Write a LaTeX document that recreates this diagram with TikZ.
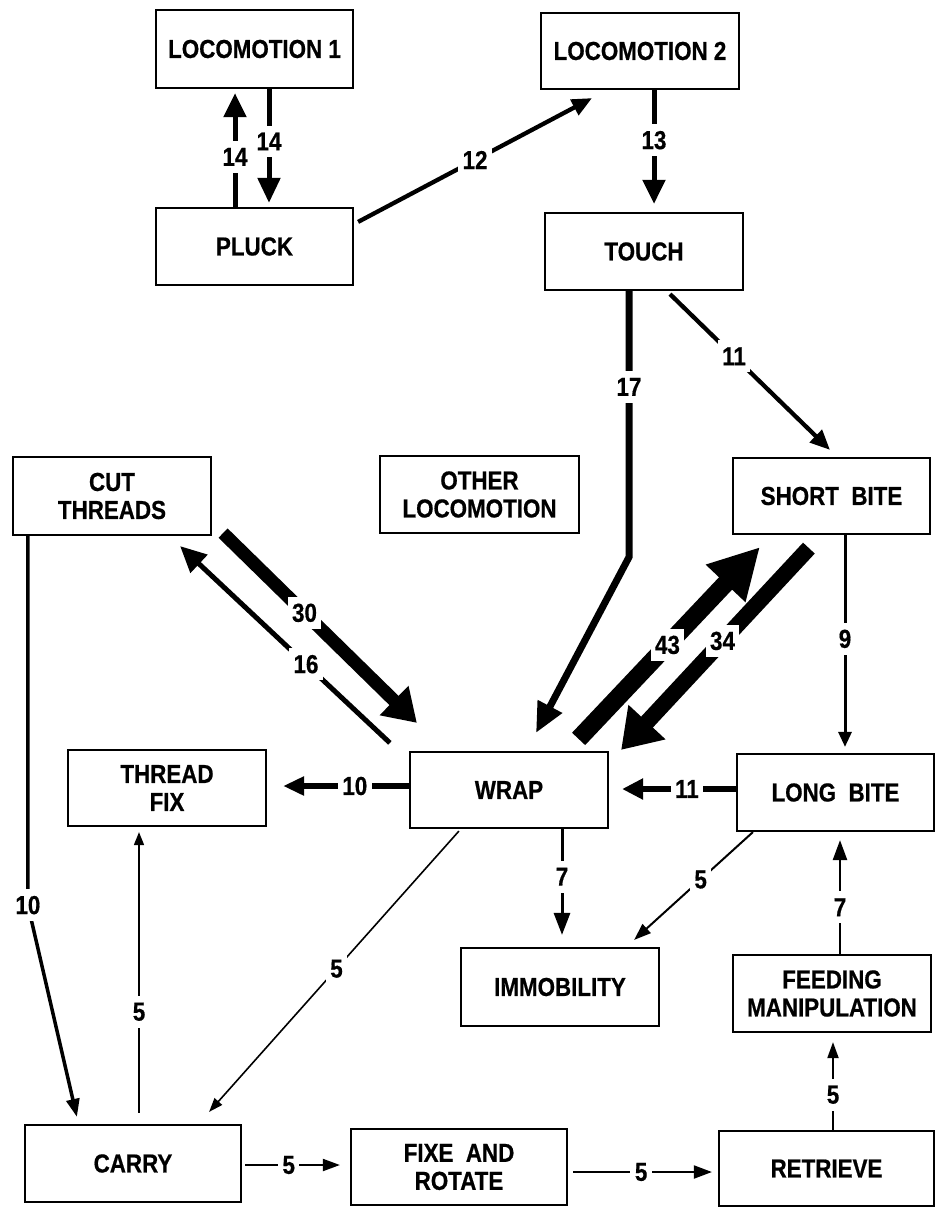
\documentclass[tikz,border=0pt]{standalone}
\usepackage{fontspec}
\setmainfont{Liberation Sans}[FakeStretch=0.86,FakeBold=0.6]
\usetikzlibrary{arrows.meta,calc}
\begin{document}
\begin{tikzpicture}[x=1pt,y=-1pt,font=\fontsize{26}{28}\selectfont\bfseries]
\tikzset{
  box/.style 2 args={draw, line width=2.2pt, align=center, inner sep=0pt, fill=white, minimum width=#1, minimum height=#2},
  lab/.style={fill=white, inner xsep=4.5pt, inner ysep=7pt, text=black},
  arrowhd/.style 2 args={-{Triangle[length=#1,width=#2]}},
}
\fill[white] (0,0) rectangle (938,1208);
\useasboundingbox (0,0) rectangle (938,1208);

% boxes
\node[box={197pt}{78pt}] (loc1) at (254.5,49) {LOCOMOTION 1};
\node[box={198pt}{76pt}] (loc2) at (640,51) {LOCOMOTION 2};
\node[box={197pt}{77pt}] (pluck) at (254.5,246.5) {PLUCK};
\node[box={198pt}{77pt}] (touch) at (644,251.5) {TOUCH};
\node[box={198pt}{78pt}] (cut) at (112,496) {CUT\\THREADS};
\node[box={199pt}{77pt}] (other) at (479.5,494.5) {OTHER\\LOCOMOTION};
\node[box={197pt}{76pt}] (short) at (831.5,496) {SHORT\ \ BITE};
\node[box={198pt}{76pt}] (threadfix) at (167,788) {THREAD\\FIX};
\node[box={198pt}{76pt}] (wrap) at (509,790) {WRAP};
\node[box={197pt}{77pt}] (long) at (835.5,792.5) {LONG\ \ BITE};
\node[box={198pt}{78pt}] (immob) at (560,987) {IMMOBILITY};
\node[box={198pt}{77pt}] (feed) at (832,993.5) {FEEDING\\MANIPULATION};
\node[box={216pt}{77pt}] (carry) at (133,1163.5) {CARRY};
\node[box={216pt}{76pt}] (fixe) at (459,1167) {FIXE\ \ AND\\ROTATE};
\node[box={215pt}{75pt}] (retrieve) at (826.5,1168.5) {RETRIEVE};

% connectors
\draw[line width=5pt, arrowhd={25pt}{22pt}] ($(loc1.south)+(14.5,0)$) -- node[lab,pos=0.46]{14} ($(pluck.north)+(14.5,-4)$);
\draw[line width=5pt, arrowhd={24pt}{22pt}] ($(pluck.north)+(-19.5,0)$) -- node[lab,pos=0.44]{14} ($(loc1.south)+(-19.5,4)$);
\draw[line width=4.3pt, arrowhd={20pt}{17pt}] ($(pluck.north east)+(4,15)$) -- node[lab,pos=0.5]{12} ($(loc2.south)+(-48,8)$);
\draw[line width=5pt, arrowhd={24pt}{22pt}] ($(loc2.south)+(14,0)$) -- node[lab,pos=0.44]{13} ($(touch.north)+(10,-8)$);
\draw[line width=7pt, arrowhd={30pt}{26pt}] ($(touch.south)+(-15,0)$) -- node[lab,pos=0.36]{17} ($(touch.south)+(-15,266)$) -- ($(wrap.north)+(27,-18)$);
\draw[line width=4.3pt, arrowhd={20pt}{17pt}] ($(touch.south)+(26,3)$) -- node[lab,pos=0.4]{11} ($(short.north)+(-1.5,-7)$);
\draw[line width=13pt, arrowhd={32pt}{39pt}] ($(cut.south east)+(11,-3)$) -- node[lab,pos=0.42]{30} ($(wrap.north west)+(8,-28)$);
\draw[line width=5pt, arrowhd={26pt}{24pt}] ($(wrap.north west)+(-19,-8)$) -- node[lab,pos=0.4]{16} ($(cut.south east)+(-32,10)$);
\draw[line width=18pt, arrowhd={50pt}{51pt}] ($(wrap.north east)+(-30.5,-12)$) -- node[lab,pos=0.49]{43} ($(short.south west)+(28,12)$);
\draw[line width=16pt, arrowhd={38pt}{48pt}] ($(short.south west)+(77,13)$) -- node[lab,pos=0.46]{34} ($(wrap.north east)+(12,-1)$);
\draw[line width=3pt, arrowhd={15pt}{13pt}] ($(short.south)+(13.5,0)$) -- node[lab,pos=0.49]{9} ($(long.north)+(9.5,-6)$);
\draw[line width=6pt, arrowhd={21pt}{20pt}] ($(long.west)+(0,-3.5)$) -- node[lab,pos=0.43]{11} ($(wrap.east)+(13,-1)$);
\draw[line width=6pt, arrowhd={21pt}{18pt}] ($(wrap.west)+(0,-4)$) -- node[lab,pos=0.43]{10} ($(threadfix.east)+(16,-2)$);
\draw[line width=3.5pt, arrowhd={18pt}{13pt}] ($(cut.south west)+(16,0)$) -- ($(cut.south west)+(16,369)$) node[lab]{10} -- ($(carry.north west)+(53,-7)$);
\draw[line width=1.6pt, arrowhd={13pt}{10pt}] ($(carry.north)+(6,-11)$) -- node[lab,pos=0.36]{5} ($(threadfix.south)+(-28,5)$);
\draw[line width=1.6pt, arrowhd={14pt}{10pt}] ($(wrap.south west)+(50,2)$) -- node[lab,pos=0.49]{5} ($(carry.north east)+(-33,-12)$);
\draw[line width=3pt, arrowhd={22pt}{16pt}] ($(wrap.south)+(53,0)$) -- node[lab,pos=0.45]{7} ($(immob.north)+(2,-12)$);
\draw[line width=2pt, arrowhd={17pt}{12pt}] ($(long.south west)+(17,0)$) -- node[lab,pos=0.44]{5} ($(immob.north east)+(-26,-7)$);
\draw[line width=2.5pt, arrowhd={20pt}{14pt}] ($(feed.north)+(8,0)$) -- node[lab,pos=0.41]{7} ($(long.south)+(4.5,8)$);
\draw[line width=2pt, arrowhd={16pt}{11pt}] ($(retrieve.north)+(6.5,0)$) -- node[lab,pos=0.4]{5} ($(feed.south)+(1,9)$);
\draw[line width=2pt, arrowhd={17pt}{12pt}] ($(carry.east)+(3,1.5)$) -- node[lab,pos=0.46]{5} ($(fixe.west)+(-10,-2)$);
\draw[line width=2pt, arrowhd={18pt}{13pt}] ($(fixe.east)+(5,5)$) -- node[lab,pos=0.49]{5} ($(retrieve.west)+(-6,3.5)$);
\end{tikzpicture}
\end{document}
